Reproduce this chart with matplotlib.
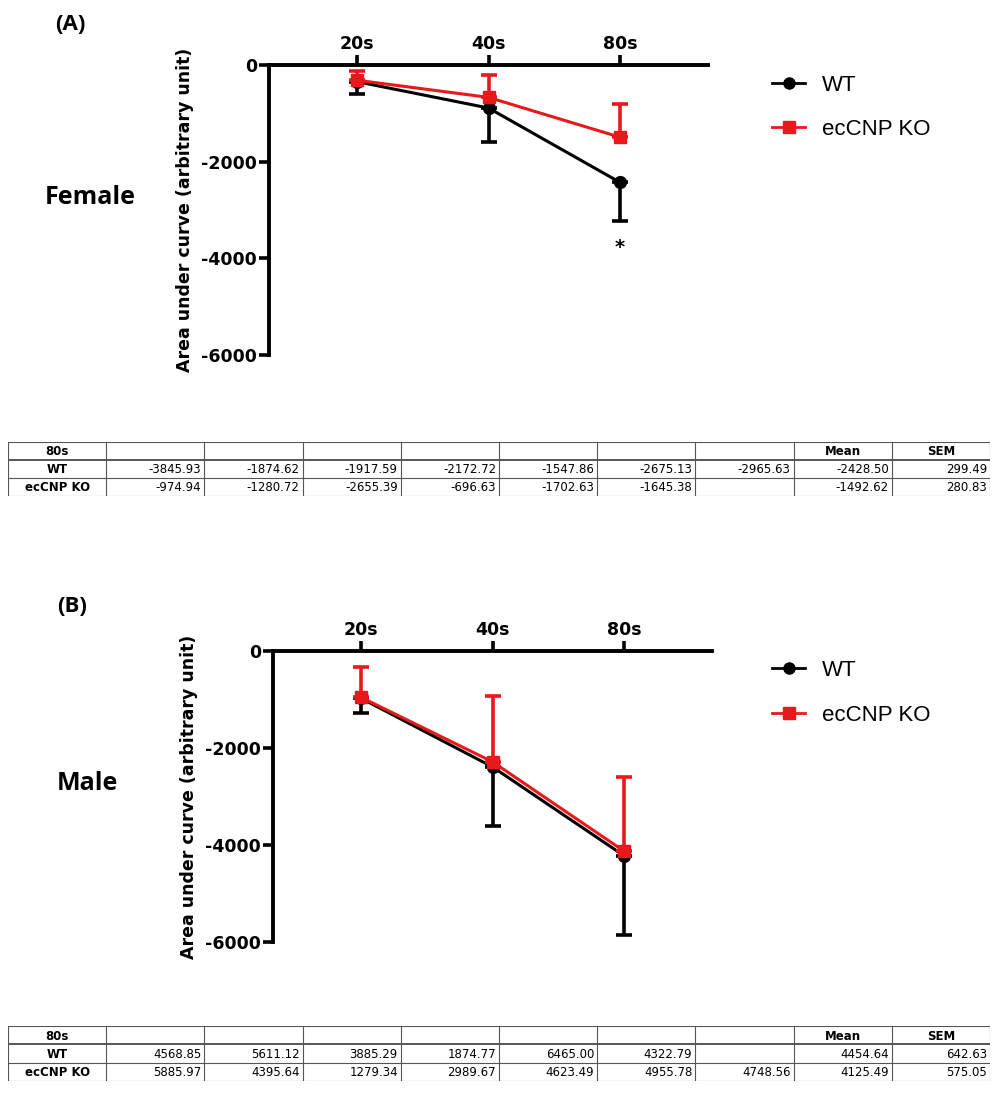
import numpy as np
import matplotlib
matplotlib.use("Agg")
from matplotlib import pyplot as plt
from matplotlib.lines import Line2D

plt.rcParams['font.family'] = ['DejaVu Sans']
plt.rcParams['axes.unicode_minus'] = False

times = ['20s', '40s', '80s']
groups = ['WT', 'ecCNP KO']

# values (mean, one-sided error bar)
fem_wt = [-345, -890, -2428]
fem_wt_err = [260, 700, 792]
fem_ko = [-315, -670, -1493]
fem_ko_err = [190, 455, 688]
male_wt = [-975, -2390, -4220]
male_wt_err = [295, 1220, 1640]
male_ko = [-955, -2285, -4125]
male_ko_err = [630, 1355, 1521]

# tables under each panel
fem_tab_wt = [-3845.93, -1874.62, -1917.59, -2172.72, -1547.86, -2675.13, -2965.63]
fem_tab_ko = [-974.94, -1280.72, -2655.39, -696.63, -1702.63, -1645.38, None]
fem_mean = [-2428.50, -1492.62]
fem_sem = [299.49, 280.83]
male_tab_wt = [4568.85, 5611.12, 3885.29, 1874.77, 6465.00, 4322.79, None]
male_tab_ko = [5885.97, 4395.64, 1279.34, 2989.67, 4623.49, 4955.78, 4748.56]
male_mean = [4454.64, 4125.49]
male_sem = [642.63, 575.05]

RED = '#e8191b'
W, H = 996, 1093
fig = plt.figure(figsize=(W / 100, H / 100), dpi=100)


def fr(x0, y0, x1, y1):
    # pixel box -> figure fraction rect
    return [x0 / W, 1 - y1 / H, (x1 - x0) / W, (y1 - y0) / H]


def panel(rect, wt, wt_err, ko, ko_err, star=False):
    ax = fig.add_axes(rect)
    x = np.arange(1, len(times) + 1)
    zeros = np.zeros(len(x))
    ax.errorbar(x, wt, yerr=[wt_err, zeros], color='black', lw=2.2,
                marker='o', ms=8.5, capsize=6, capthick=2.6, elinewidth=2.6,
                clip_on=False, zorder=3)
    ax.errorbar(x, ko, yerr=[zeros, ko_err], color=RED, lw=2.2,
                marker='s', ms=8, capsize=6, capthick=2.6, elinewidth=2.6,
                clip_on=False, zorder=4)
    if star:
        ax.text(3, -3780, '*', ha='center', va='center', fontsize=14, fontweight='bold')
    ax.set_xlim(0.33, 3.67)
    ax.set_ylim(-6000, 0)
    ax.set_yticks([0, -2000, -4000, -6000])
    ax.set_yticklabels(['0', '-2000', '-4000', '-6000'], fontsize=12.5, fontweight='bold')
    ax.xaxis.tick_top()
    ax.set_xticks(x)
    ax.set_xticklabels(times, fontsize=12.5, fontweight='bold')
    for s in ['bottom', 'right']:
        ax.spines[s].set_visible(False)
    for s in ['top', 'left']:
        ax.spines[s].set_linewidth(2.8)
    ax.tick_params(axis='both', width=2.6, length=7, pad=1.5)
    ax.set_ylabel('Area under curve (arbitrary unit)', fontsize=12.5,
                  fontweight='bold', labelpad=5)
    return ax


def legend(y_wt, y_ko):
    hs = [Line2D([], [], color='black', marker='o', ms=8, lw=2),
          Line2D([], [], color=RED, marker='s', ms=8, lw=2)]
    fs = 16
    em = fs * 100 / 72
    fig.legend(hs, groups, loc='upper left', frameon=False, fontsize=fs,
               prop={'family': 'Liberation Sans', 'size': fs},
               bbox_to_anchor=(772 / W, 1 - (y_wt - 0.46 * em) / H),
               borderpad=0, borderaxespad=0,
               handlelength=1.5, handletextpad=0.75,
               labelspacing=(y_ko - y_wt - 0.91 * em) / em)


def table(rect, wt_vals, ko_vals, means, sems):
    ax = fig.add_axes(rect)
    ax.set_xlim(0, 10)
    ax.set_ylim(3, 0)
    ax.axis('off')
    for i in range(11):
        ax.plot([i, i], [0, 3], color='#555555', lw=0.8)
    for j in range(4):
        ax.plot([0, 10], [j, j], color='#555555', lw=1.4 if j == 1 else 0.8)
    fs = 8.5
    ax.text(0.5, 0.55, '80s', ha='center', va='center', fontsize=fs, fontweight='bold')
    ax.text(8.5, 0.55, 'Mean', ha='center', va='center', fontsize=fs, fontweight='bold')
    ax.text(9.5, 0.55, 'SEM', ha='center', va='center', fontsize=fs, fontweight='bold')
    rows = [wt_vals + [means[0], sems[0]], ko_vals + [means[1], sems[1]]]
    for r, (name, vals) in enumerate(zip(groups, rows)):
        yy = r + 1.55
        ax.text(0.5, yy, name, ha='center', va='center', fontsize=fs, fontweight='bold')
        for c, v in enumerate(vals):
            if v is None:
                continue
            ax.text(c + 1.97, yy, f'{v:.2f}', ha='right', va='center', fontsize=fs)


side = {'family': ['Open Sans', 'DejaVu Sans'], 'fontweight': 'bold', 'va': 'center'}

# panel A
panel(fr(269, 65, 708, 355), fem_wt, fem_wt_err, fem_ko, fem_ko_err, star=True)
legend(85, 128)
fig.text(55 / W, 1 - 24 / H, '(A)', fontsize=16, **side)
fig.text(45 / W, 1 - 197 / H, 'Female', fontsize=18, **side)
table(fr(8, 442, 990, 496), fem_tab_wt, fem_tab_ko, fem_mean, fem_sem)

# panel B
panel(fr(273, 651, 712, 942), male_wt, male_wt_err, male_ko, male_ko_err)
legend(670, 714)
fig.text(57 / W, 1 - 606 / H, '(B)', fontsize=16, **side)
fig.text(57 / W, 1 - 783 / H, 'Male', fontsize=18, **side)
table(fr(8, 1026, 990, 1081), male_tab_wt, male_tab_ko, male_mean, male_sem)

fig.savefig('out.png', dpi=100)
